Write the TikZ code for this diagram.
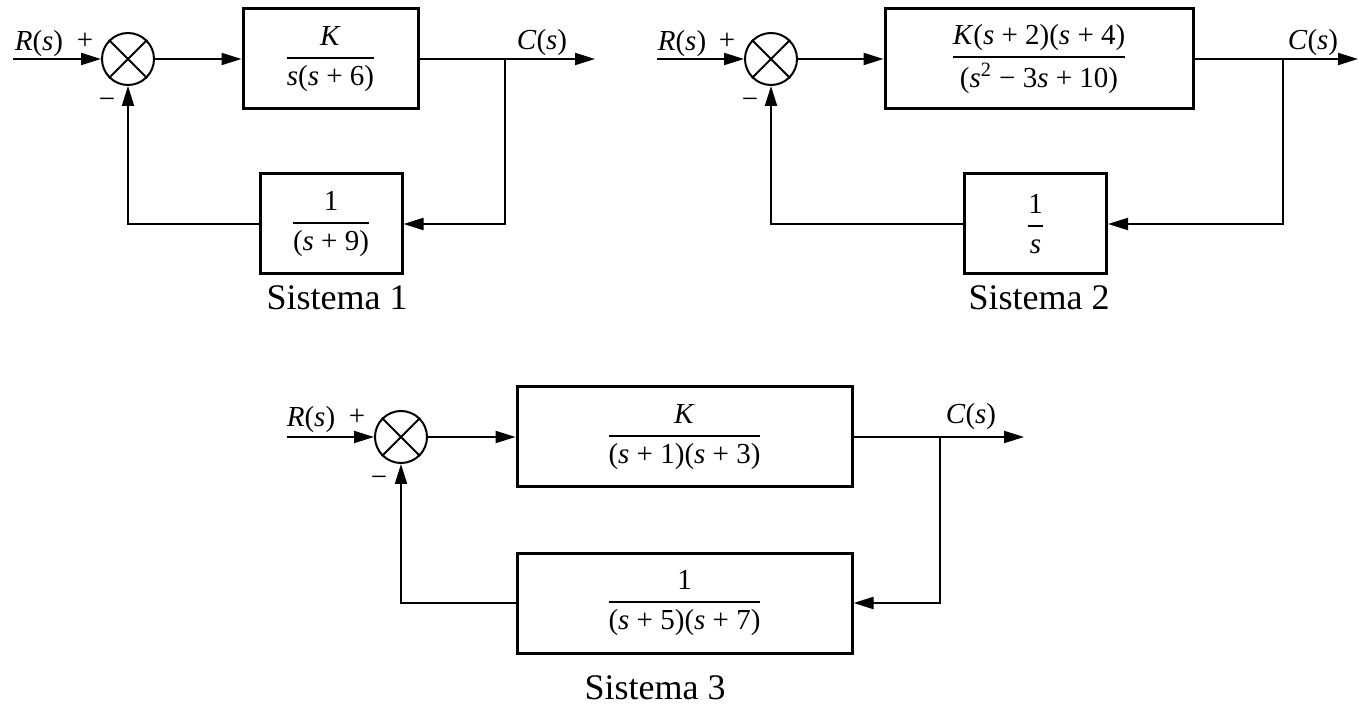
\documentclass[tikz,border=0pt]{standalone}
\usepackage{amsmath}
\usepackage{fontspec}
\setmainfont{Liberation Serif}
\usetikzlibrary{arrows.meta}

% italic variable and stacked fraction in the serif text font
\newcommand\myS{\textit{s}}
\newcommand\myFrac[2]{$\genfrac{}{}{0.9pt}{0}{\text{#1}}{\text{#2}}$}

\begin{document}
\begin{tikzpicture}[x=0.5pt,y=-0.5pt,
  wire/.style={line width=1pt},
  arr/.style={wire,-{Triangle[length=10pt,width=6pt]}},
  sumjunc/.style={circle,draw,line width=1pt,minimum size=26pt,inner sep=0pt},
  blk/.style={rectangle,draw,line width=1.5pt,minimum height=50pt,inner sep=0pt,
              font=\fontsize{14.5}{17}\selectfont},
  lbl/.style={inner sep=0pt,font=\fontsize{14.5}{17}\selectfont},
  caption/.style={inner sep=0pt,font=\fontsize{18}{22}\selectfont}]

\useasboundingbox (0,0) rectangle (1359,710);

% ---------------- Sistema 1 ----------------
\node[sumjunc] (s1) at (128,59) {};
\draw[wire] (s1.north west) -- (s1.south east) (s1.north east) -- (s1.south west);
\node[blk,minimum width=87.5pt] (g1) at (330.5,59)
  {\myFrac{\textit{K}}{\myS(\myS{} + 6)}};
\node[blk,minimum width=71pt] (h1) at (331,224)
  {\myFrac{1}{(\myS{} + 9)}};
\coordinate (in1) at (13,59);
\coordinate (br1) at (505,59);
\coordinate (out1) at (595,59);
\draw[arr] (in1) -- (s1);
\draw[arr] (s1) -- (g1);
\draw[arr] (g1) -- (out1);
\draw[arr] (br1) |- (h1.east);
\draw[arr] (h1.west) -| (s1.south);
\node[lbl] (r1) at (39,44) {\textit{R}(\myS)};
\node[lbl] (p1) at (85,41) {+};
\node[lbl] (m1) at (107,103) {−};
\node[lbl] (c1) at (542,43) {\textit{C}(\myS)};
\node[caption] (t1) at (337,298) {Sistema 1};

% ---------------- Sistema 2 ----------------
\node[sumjunc] (s2) at (771,59) {};
\draw[wire] (s2.north west) -- (s2.south east) (s2.north east) -- (s2.south west);
\node[blk,minimum width=154pt] (g2) at (1039,59)
  {\myFrac{\textit{K}(\myS{} + 2)(\myS{} + 4)}{(\myS\textsuperscript{2} − 3\myS{} + 10)}};
\node[blk,minimum width=71pt] (h2) at (1035.5,224)
  {\myFrac{1}{\myS}};
\coordinate (in2) at (657,59);
\coordinate (br2) at (1283,59);
\coordinate (out2) at (1358,59);
\draw[arr] (in2) -- (s2);
\draw[arr] (s2) -- (g2);
\draw[arr] (g2) -- (out2);
\draw[arr] (br2) |- (h2.east);
\draw[arr] (h2.west) -| (s2.south);
\node[lbl] (r2) at (682,44) {\textit{R}(\myS)};
\node[lbl] (p2) at (727,41) {+};
\node[lbl] (m2) at (750,103) {−};
\node[lbl] (c2) at (1313,43) {\textit{C}(\myS)};
\node[caption] (t2) at (1039,298) {Sistema 2};

% ---------------- Sistema 3 ----------------
\node[sumjunc] (s3) at (401,437) {};
\draw[wire] (s3.north west) -- (s3.south east) (s3.north east) -- (s3.south west);
\node[blk,minimum width=167.5pt] (g3) at (684.5,437)
  {\myFrac{\textit{K}}{(\myS{} + 1)(\myS{} + 3)}};
\node[blk,minimum width=167.5pt] (h3) at (684.5,603)
  {\myFrac{1}{(\myS{} + 5)(\myS{} + 7)}};
\coordinate (in3) at (287,437);
\coordinate (br3) at (940,437);
\coordinate (out3) at (1024,437);
\draw[arr] (in3) -- (s3);
\draw[arr] (s3) -- (g3);
\draw[arr] (g3) -- (out3);
\draw[arr] (br3) |- (h3.east);
\draw[arr] (h3.west) -| (s3.south);
\node[lbl] (r3) at (311,420) {\textit{R}(\myS)};
\node[lbl] (p3) at (357,417) {+};
\node[lbl] (m3) at (379,481) {−};
\node[lbl] (c3) at (971,417) {\textit{C}(\myS)};
\node[caption] (t3) at (655,688) {Sistema 3};

\end{tikzpicture}
\end{document}
